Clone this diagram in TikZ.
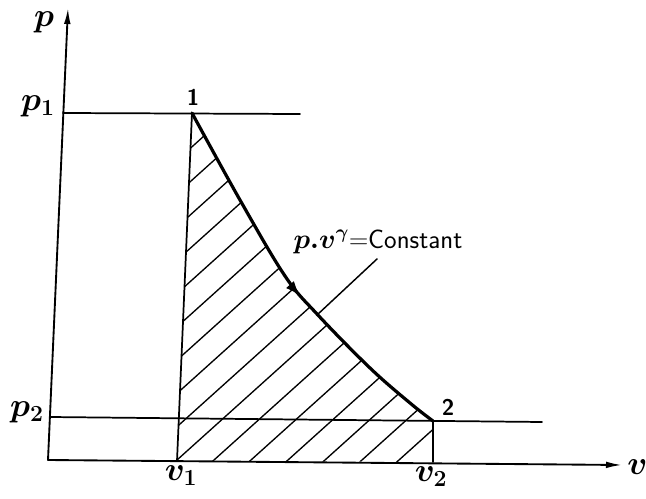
\documentclass[tikz,border=0pt]{standalone}
\usetikzlibrary{arrows.meta,decorations.markings}
\begin{document}
\begin{tikzpicture}[x=0.75pt,y=-0.75pt,line cap=round,
  axisline/.style={line width=1.4pt,-{Latex[length=12pt,width=5pt]}},
  guide/.style={line width=1.3pt},
  curveline/.style={line width=2.4pt},
  hatchline/.style={line width=1pt},
  lbl/.style={inner sep=0pt,font=\boldmath\fontsize{24}{28}\selectfont},
  num/.style={inner sep=0pt,font=\sffamily\bfseries\fontsize{17}{20}\selectfont},
  formula/.style={inner sep=0pt,font=\boldmath\fontsize{20}{24}\selectfont}]
\useasboundingbox (0,0) rectangle (646,499);
% key points
\coordinate (O) at (48,460);
\coordinate (ytop) at (68,8);
\coordinate (xend) at (622,465);
\coordinate (P1) at (192,113);
\coordinate (P2) at (433,421);
\coordinate (V1) at (177,461);
\coordinate (V2) at (433,462);
\coordinate (p1s) at (63,113);
\coordinate (p1e) at (300,114);
\coordinate (p2s) at (50,417);
\coordinate (p2e) at (542,422);
\coordinate (leadS) at (377,259);
\coordinate (leadE) at (317,315);
% hatching
\begin{scope}
  \clip (V1) -- plot[smooth,tension=0.6] coordinates {(192,113) (240,200) (285,276) (317,314) (370,368) (410,403) (433,421)} -- (V2) -- cycle;
  \foreach \k in {-14,...,8}{
    \draw[hatchline] ({177+37*\k-30},487) -- ++(430,-387);
  }
\end{scope}
% axes
\draw[axisline] (O) -- (ytop);
\draw[axisline] (O) -- (xend);
% guide lines
\draw[guide] (p1s) -- (p1e);
\draw[guide] (p2s) -- (p2e);
\draw[guide] (V1) -- (P1);
\draw[guide] (P2) -- (V2);
% process curve
\draw[curveline,postaction={decorate},
  decoration={markings,mark=at position 0.54 with {\arrow{Latex[length=12pt,width=8pt]}}}]
  plot[smooth,tension=0.6] coordinates {(192,113) (240,200) (285,276) (317,314) (370,368) (410,403) (433,421)};
% leader
\draw[line width=1.1pt] (leadS) -- (leadE);
% labels
\node[lbl] (lp) at (44,22) {$p$};
\node[lbl] (lp1) at (38,106) {$p_1$};
\node[lbl] (lp2) at (27,412) {$p_2$};
\node[num] (l1) at (193,97) {1};
\node[num] (l2) at (448,407) {2};
\node[lbl] (lv1) at (181,476) {$v_1$};
\node[lbl] (lv2) at (431,477) {$v_2$};
\node[lbl,anchor=west] (lv) at (627,467) {$v$};
\node[formula] (lf) at (378,242) {$p.v^{\gamma}$=\sffamily Constant};
\end{tikzpicture}
\end{document}
